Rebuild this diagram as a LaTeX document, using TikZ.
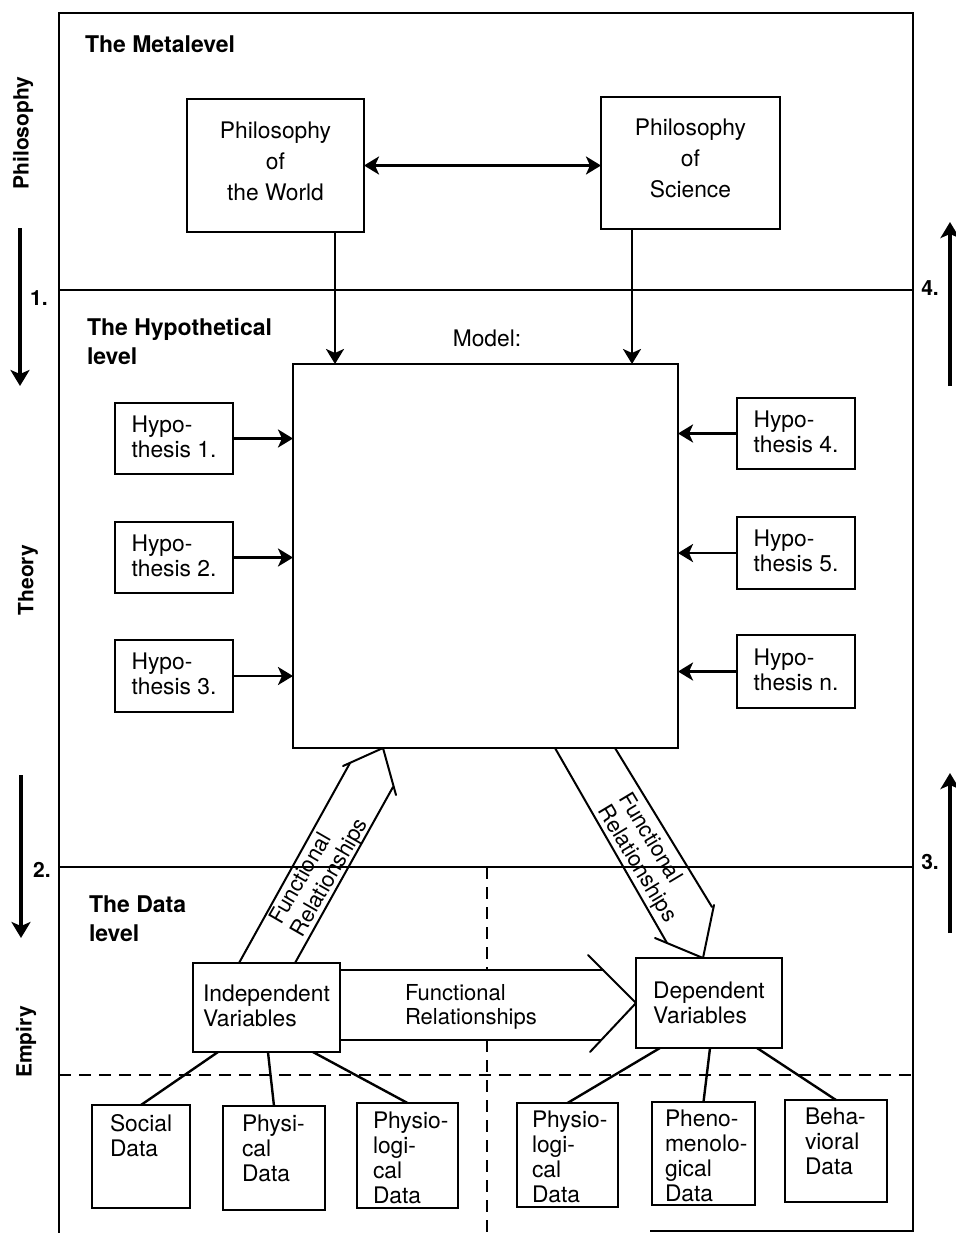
\documentclass[tikz,border=0pt]{standalone}
\usepackage{fontspec}
\setmainfont{TeX Gyre Heros}
\usetikzlibrary{arrows.meta,fit,calc}
\begin{document}
\begin{tikzpicture}[x=0.5pt,y=-0.5pt,
  every node/.style={inner sep=0pt,outer sep=0pt},
  txt/.style={font=\fontsize{11.4}{12.5}\selectfont,align=left},
  ctxt/.style={font=\fontsize{11.4}{15.5}\selectfont,align=center},
  bandtxt/.style={font=\fontsize{11}{12.2}\selectfont,align=left},
  hdr/.style={font=\fontsize{11.5}{14.5}\selectfont\bfseries,align=left,anchor=north west},
  side/.style={font=\fontsize{10.5}{12}\selectfont\bfseries,rotate=90},
  num/.style={font=\fontsize{10.5}{12}\selectfont\bfseries},
  box/.style={draw,line width=1.1pt,fit={#1}},
  frameline/.style={line width=1.4pt},
  levelline/.style={line width=1.2pt},
  dashline/.style={line width=1pt,dash pattern=on 6pt off 4pt},
  arr/.style={line width=1.4pt,-{Stealth[length=7.5pt,width=9pt,inset=2pt]}},
  darr/.style={line width=1.4pt,{Stealth[length=7.5pt,width=9pt,inset=2pt]}-{Stealth[length=7.5pt,width=9pt,inset=2pt]}},
  sarr/.style={line width=1.6pt,-{Stealth[length=8pt,width=9.5pt,inset=2pt]}},
  bandline/.style={line width=1pt,line cap=round,line join=round},
  conn/.style={line width=1.2pt},
]
\useasboundingbox (0,0) rectangle (956,1233);

% outer frame (bottom edge only partly printed)
\coordinate (fBL) at (59,1233);
\coordinate (fTL) at (59,13);
\coordinate (fTR) at (913,13);
\coordinate (fBR) at (913,1231);
\coordinate (fBM) at (650,1231);
\draw[frameline] (fBL) -- (fTL) -- (fTR) -- (fBR) -- (fBM);

% level separators
\coordinate (m1) at (59,290);   \coordinate (m2) at (913,290);
\coordinate (d1) at (59,867);   \coordinate (d2) at (913,867);
\coordinate (e1) at (59,1075);  \coordinate (e2) at (913,1075);
\draw[levelline] (m1) -- (m2);
\draw[levelline] (d1) -- (d2);
\draw[dashline] (e1) -- (e2);
\coordinate (v1) at (487,867);  \coordinate (v2) at (487,970);
\coordinate (v3) at (487,1040); \coordinate (v4) at (487,1233);
\draw[dashline] (v1) -- (v2);
\draw[dashline] (v3) -- (v4);

% level headings
\node[hdr] (hmeta) at (85,36) {The Metalevel};
\node[hdr] (hhyp) at (87,318) {The Hypothetical\\level};
\node[hdr] (hdata) at (89,896) {The Data\\level};

% side labels and direction arrows
\node[side] (sphil) at (23,133) {Philosophy};
\node[side] (sthe) at (28,580) {Theory};
\node[side] (semp) at (26,1042) {Empiry};
\node[num] (n1) at (39,298) {1.};
\node[num] (n2) at (42,870) {2.};
\node[num] (n3) at (930,862) {3.};
\node[num] (n4) at (930,288) {4.};
\coordinate (a1s) at (20,228);  \coordinate (a1e) at (20,386);
\coordinate (a2s) at (21,775);  \coordinate (a2e) at (21,938);
\coordinate (a4s) at (950,386); \coordinate (a4e) at (950,222);
\coordinate (a3s) at (950,933); \coordinate (a3e) at (950,773);
\draw[sarr] (a1s) -- (a1e);
\draw[sarr] (a2s) -- (a2e);
\draw[sarr] (a4s) -- (a4e);
\draw[sarr] (a3s) -- (a3e);

% metalevel
\node[box={(187,99) (364,232)}] (pw) {};
\node[box={(601,97) (780,229)}] (ps) {};
\node[ctxt] (pwt) at ($(pw.center)+(0,-4)$) {Philosophy\\of\\the World};
\node[ctxt] (pst) at ($(ps.center)+(0,-5)$) {Philosophy\\of\\Science};
\draw[darr] (pw.east) -- (pw.east -| ps.west);

% model and hypotheses
\node[box={(293,364) (678,748)}] (model) {};
\node[txt] (mlab) at (487,338) {Model:};
\coordinate (c1) at (335,0); \coordinate (c2) at (632,0);
\draw[arr] (pw.south -| c1) -- (model.north -| c1);
\draw[arr] (ps.south -| c2) -- (model.north -| c2);

\node[box={(115,403) (233,474)}] (h1) {};
\node[box={(115,522) (233,593)}] (h2) {};
\node[box={(115,640) (233,712)}] (h3) {};
\node[box={(737,398) (855,469)}] (h4) {};
\node[box={(737,517) (855,589)}] (h5) {};
\node[box={(737,635) (855,708)}] (hn) {};
\foreach \h/\n in {h1/1.,h2/2.,h3/3.,h4/4.,h5/5.,hn/n.}{
  \node[txt] (\h t) at ($(\h.center)+(0,-2)$) {Hypo-\\thesis \n};}
\foreach \h in {h1,h2,h3}{\draw[arr] (\h.east) -- (\h.east -| model.west);}
\foreach \h in {h4,h5,hn}{\draw[arr] (\h.west) -- (\h.west -| model.east);}

% data level variables
\node[box={(193,963) (340,1052)}] (iv) {};
\node[box={(636,958) (782,1048)}] (dv) {};
\node[txt] (ivt) at ($(iv.center)+(0,-2)$) {Independent\\Variables};
\node[txt] (dvt) at ($(dv.center)+(0,0)$) {Dependent\\Variables};

% broad arrow: independent -> dependent
\coordinate (hbTL) at (340,970);  \coordinate (hbTR) at (603,970);
\coordinate (hbBL) at (340,1040); \coordinate (hbBR) at (601,1040);
\coordinate (hbU) at (588,955);   \coordinate (hbD) at (590,1052);
\draw[bandline] (hbTL) -- (hbTR);
\draw[bandline] (hbBL) -- (hbBR);
\draw[bandline] (hbU) -- (dv.west) -- (hbD);
\node[bandtxt,anchor=west] (hbt) at (405,1007) {Functional\\Relationships};

% broad arrow: independent -> model
\coordinate (lbL0) at (239,963); \coordinate (lbL1) at (350,763);
\coordinate (lbR0) at (295,963); \coordinate (lbR1) at (393,787);
\coordinate (lbA) at (343,766);  \coordinate (lbT) at (383,748);
\coordinate (lbB) at (396,795);
\draw[bandline] (lbL0) -- (lbL1);
\draw[bandline] (lbR0) -- (lbR1);
\draw[bandline] (lbA) -- (lbT) -- (lbB);
\node[bandtxt,rotate=60] (lbt) at (320,872) {Functional\\Relationships};

% broad arrow: model -> dependent
\coordinate (rbL0) at (555,748); \coordinate (rbL1) at (667,943);
\coordinate (rbR0) at (615,748); \coordinate (rbR1) at (712,907);
\coordinate (rbA) at (655,938);  \coordinate (rbT) at (703,958);
\coordinate (rbB) at (714,905);
\draw[bandline] (rbL0) -- (rbL1);
\draw[bandline] (rbR0) -- (rbR1);
\draw[bandline] (rbA) -- (rbT) -- (rbB);
\node[bandtxt,rotate=-59] (rbt) at (647,858) {Functional\\Relationships};

% data boxes
\node[box={(92,1105) (190,1208)}] (soc) {};
\node[box={(223,1106) (325,1210)}] (phy) {};
\node[box={(357,1103) (458,1208)}] (pl) {};
\node[box={(517,1103) (618,1207)}] (pr) {};
\node[box={(652,1102) (755,1205)}] (ph) {};
\node[box={(785,1100) (887,1202)}] (bh) {};
\node[txt,anchor=north west] (soct) at ($(soc.north west)+(18,9)$) {Social\\Data};
\node[txt,anchor=north west] (phyt) at ($(phy.north west)+(19,9)$) {Physi-\\cal\\Data};
\node[txt,anchor=north west] (plt) at ($(pl.north west)+(16,9)$) {Physio-\\logi-\\cal\\Data};
\node[txt,anchor=north west] (prt) at ($(pr.north west)+(15,8)$) {Physio-\\logi-\\cal\\Data};
\node[txt,anchor=north west] (pht) at ($(ph.north west)+(13,8)$) {Pheno-\\menolo-\\gical\\Data};
\node[txt,anchor=north west] (bht) at ($(bh.north west)+(20,8)$) {Beha-\\vioral\\Data};

% variables to data
\draw[conn] ($(iv.south west)!0.17!(iv.south east)$) -- (soc.north);
\draw[conn] ($(iv.south west)!0.51!(iv.south east)$) -- (phy.north);
\draw[conn] ($(iv.south west)!0.816!(iv.south east)$) -- (pl.north);
\draw[conn] ($(dv.south west)!0.164!(dv.south east)$) -- (pr.north);
\draw[conn] ($(dv.south west)!0.507!(dv.south east)$) -- (ph.north);
\draw[conn] ($(dv.south west)!0.829!(dv.south east)$) -- (bh.north);
\end{tikzpicture}
\end{document}
